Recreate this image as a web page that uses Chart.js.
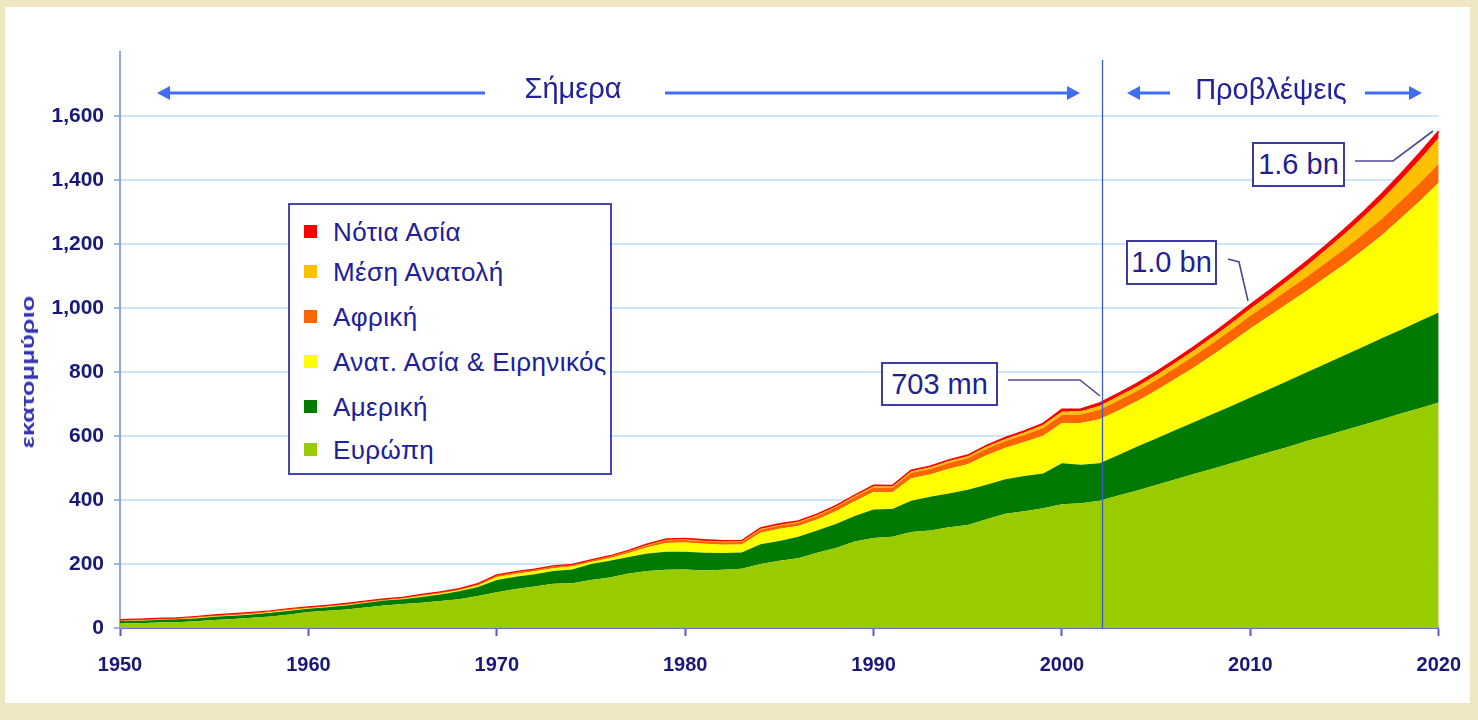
<!DOCTYPE html>
<html>
<head>
<meta charset="utf-8">
<script src="https://cdn.jsdelivr.net/npm/chart.js@4.4.1/dist/chart.umd.min.js"></script>
<style>
  html,body{margin:0;padding:0;}
  body{width:1478px;height:720px;overflow:hidden;position:relative;background:#efe7c2;font-family:"Liberation Sans",Arial,sans-serif;}
  #panel{position:absolute;left:5px;top:7px;width:1465px;height:696px;background:#fff;}
  #c{position:absolute;left:0;top:0;}
  .hdr{position:absolute;color:#22229a;font-size:29px;white-space:nowrap;transform:translate(-50%,-50%);}
  .box{position:absolute;box-sizing:border-box;border:2px solid #3c3ca4;background:#fff;color:#1f1f90;font-size:29px;text-align:center;white-space:nowrap;}
  #legend{position:absolute;left:288px;top:203px;width:324px;height:272px;box-sizing:border-box;border:2px solid #4646b0;background:#fff;}
  .li{position:absolute;left:0;white-space:nowrap;}
  .sw{position:absolute;left:14px;width:13px;height:13px;}
  .lt{position:absolute;left:43px;color:#20209a;font-size:26px;letter-spacing:0.4px;transform:translateY(-50%);}
  #ytitle{position:absolute;left:28px;top:372px;color:#3434b0;font-size:19px;font-weight:bold;white-space:nowrap;transform:translate(-50%,-50%) rotate(-90deg) scaleX(1.35);}
</style>
</head>
<body>
<div id="panel"></div>
<canvas id="c" width="1478" height="720"></canvas>
<div class="hdr" style="left:573px;top:88px;">Σήμερα</div>
<div class="hdr" style="left:1271px;top:89px;">Προβλέψεις</div>
<div id="ytitle">εκατομμύριο</div>
<div id="legend"></div>
<div class="box" style="left:881px;top:362px;width:117px;height:44px;line-height:40px;">703 mn</div>
<div class="box" style="left:1126px;top:240px;width:91px;height:45px;line-height:41px;">1.0 bn</div>
<div class="box" style="left:1252px;top:142px;width:93px;height:45px;line-height:41px;">1.6 bn</div>
<script>
// ---- Data (millions) ----
const years = [
 1950,1951,1952,1953,1954,1955,1956,1957,1958,1959,
 1960,1961,1962,1963,1964,1965,1966,1967,1968,1969,
 1970,1971,1972,1973,1974,1975,1976,1977,1978,1979,
 1980,1981,1982,1983,1984,1985,1986,1987,1988,1989,
 1990,1991,1992,1993,1994,1995,1996,1997,1998,1999,
 2000,2001,2002,2003,2004,2005,2006,2007,2008,2009,
 2010,2011,2012,2013,2014,2015,2016,2017,2018,2019,
 2020];

const europe = [
 14,15,17,18,21,25,28,32,36,42,
 50,54,58,64,70,75,79,84,90,100,
 112,122,130,138,140,150,158,170,178,182,
 183,180,182,185,200,210,218,235,250,270,
 281,285,300,305,315,322,340,357,365,374,
 387,390,398,414,430,447,464,481,498,515,
 532,549,566,584,601,618,635,652,670,687,
 705];

const americas = [
 8,8,8,9,9,10,10,10,12,12,
 10,11,12,14,16,15,18,21,25,28,
 38,38,38,40,43,50,52,52,55,56,
 55,55,52,51,62,62,67,70,75,80,
 89,87,98,105,105,110,108,108,110,109,
 128,120,117,127,137,145,154,162,171,179,
 188,197,207,215,225,234,244,254,262,272,
 281];

const eastAsia = [
 1,1,1,1,2,2,2,2,2,2,
 2,2,2,2,1,2,3,3,3,5,
 9,9,9,9,9,6,8,12,19,28,
 29,28,26,25,36,38,34,34,40,46,
 55,52,70,70,78,80,92,98,106,118,
 126,131,137,139,142,150,160,171,184,200,
 216,229,242,255,270,285,303,322,349,375,
 406];

const africa = [
 1,1,1,1,1,1,2,2,1,2,
 1,1,2,1,1,1,2,2,2,3,
 4,4,4,4,4,4,5,5,6,8,
 8,8,8,8,9,10,10,11,12,13,
 14,14,17,17,18,19,20,21,22,24,
 25,26,30,31,32,33,34,36,37,38,
 40,41,42,44,45,47,49,52,54,57,
 59];

const middleEast = [
 0,1,1,1,1,1,1,1,1,1,
 1,1,1,1,1,1,1,1,1,1,
 1,1,1,1,1,1,1,2,2,2,
 2,2,2,2,3,3,3,3,3,4,
 4,4,5,5,6,6,7,7,8,9,
 10,10,12,13,14,15,16,17,19,20,
 22,25,29,34,40,47,53,60,66,73,
 80];

const southAsia = [
 1,1,1,1,1,1,1,1,1,1,
 1,1,1,1,1,1,1,1,1,1,
 1,1,1,1,1,1,1,1,2,2,
 2,2,2,2,2,2,2,2,2,2,
 3,3,3,3,3,3,3,4,4,5,
 7,7,9,9,10,10,10,11,11,12,
 12,13,13,14,14,15,16,18,19,21,
 22];

const seriesNames = ["Ευρώπη","Αμερική","Ανατ. Ασία & Ειρηνικός","Αφρική","Μέση Ανατολή","Νότια Ασία"];
const seriesValues = [europe, americas, eastAsia, africa, middleEast, southAsia];
const seriesColors = ["#99cc00","#007a00","#ffff00","#ff6600","#ffc000","#ff0000"];

const yTicks = [0,200,400,600,800,1000,1200,1400,1600];
const xTicks = [1950,1960,1970,1980,1990,2000,2010,2020];
const splitYear = 2002.1;

const FONT = '"Liberation Sans", Arial, sans-serif';

// ---- Legend (HTML, top-to-bottom = reverse stack order) ----
const legend = document.getElementById('legend');
const rowY = [27, 67, 112, 157, 202, 245];
for (let k = 0; k < seriesNames.length; k++) {
  const i = seriesNames.length - 1 - k;
  const row = document.createElement('div');
  row.className = 'li';
  row.style.top = rowY[k] + 'px';
  const sw = document.createElement('div');
  sw.className = 'sw';
  sw.style.background = seriesColors[i];
  sw.style.top = '-7px';
  const t = document.createElement('div');
  t.className = 'lt';
  t.textContent = seriesNames[i];
  row.appendChild(sw); row.appendChild(t);
  legend.appendChild(row);
}

// ---- Datasets ----
const datasets = seriesValues.map((vals, i) => ({
  label: seriesNames[i],
  data: vals.map((v, j) => ({x: years[j], y: v})),
  backgroundColor: seriesColors[i],
  borderColor: seriesColors[i],
  borderWidth: i === 5 ? 1.8 : 0,
  pointRadius: 0,
  fill: i === 0 ? 'origin' : '-1',
  tension: 0
}));

function arrow(ctx, x1, y, x2, color) {
  const dir = Math.sign(x2 - x1);
  ctx.strokeStyle = color; ctx.fillStyle = color; ctx.lineWidth = 3;
  ctx.beginPath(); ctx.moveTo(x1, y); ctx.lineTo(x2 - dir * 10, y); ctx.stroke();
  ctx.beginPath(); ctx.moveTo(x2, y); ctx.lineTo(x2 - dir * 13, y - 7); ctx.lineTo(x2 - dir * 13, y + 7); ctx.closePath(); ctx.fill();
}

const overlay = {
  id: 'overlay',
  afterDraw(chart) {
    const ctx = chart.ctx;
    const xs = chart.scales.x, ys = chart.scales.y;
    ctx.save();
    const sx = Math.round(xs.getPixelForValue(splitYear)) + 0.5;
    ctx.strokeStyle = '#3c5ad0'; ctx.lineWidth = 1.3;
    ctx.beginPath(); ctx.moveTo(sx, 60); ctx.lineTo(sx, ys.getPixelForValue(0)); ctx.stroke();
    const ac = '#3f6ef2';
    arrow(ctx, 485, 93, 157, ac);
    arrow(ctx, 665, 93, 1080, ac);
    arrow(ctx, 1170, 93, 1127, ac);
    arrow(ctx, 1365, 93, 1422, ac);
    ctx.strokeStyle = '#4a4a8e'; ctx.lineWidth = 1.6;
    ctx.beginPath(); ctx.moveTo(1008, 380); ctx.lineTo(1080, 380); ctx.lineTo(1100, 396); ctx.stroke();
    ctx.beginPath(); ctx.moveTo(1228, 259); ctx.lineTo(1239, 262); ctx.lineTo(1248, 301); ctx.stroke();
    ctx.beginPath(); ctx.moveTo(1355, 161); ctx.lineTo(1393, 161); ctx.lineTo(1433, 131); ctx.stroke();
    ctx.restore();
  }
};

new Chart(document.getElementById('c'), {
  type: 'line',
  data: { datasets },
  plugins: [overlay],
  options: {
    responsive: false,
    animation: false,
    layout: { padding: { left: 0, right: 38, top: 52, bottom: 0 } },
    plugins: { legend: { display: false }, tooltip: { enabled: false } },
    elements: { point: { radius: 0 }, line: { tension: 0 } },
    scales: {
      x: {
        type: 'linear', min: 1950, max: 2020,
        afterBuildTicks: s => { s.ticks = xTicks.map(v => ({value: v})); },
        ticks: { callback: v => String(v), font: { family: FONT, size: 20, weight: 'bold' }, color: '#18187a', padding: 17, maxRotation: 0, autoSkip: false },
        grid: { drawOnChartArea: false, drawTicks: true, tickLength: 8, tickColor: '#5b5bc8', tickWidth: 2 },
        border: { color: '#6a6ad4', width: 2 },
        afterFit: s => { s.height = 92; }
      },
      y: {
        stacked: true, min: 0, max: 1800,
        afterBuildTicks: s => { s.ticks = yTicks.map(v => ({value: v})); },
        ticks: { callback: v => v.toLocaleString('en-US'), font: { family: FONT, size: 21, weight: 'bold' }, color: '#18187a', padding: 10 },
        grid: { color: '#cde5fb', lineWidth: 2, tickLength: 6, tickColor: '#9fb4ef', tickWidth: 2 },
        border: { color: '#8ea4ee', width: 2 },
        afterFit: s => { s.width = 120; }
      }
    }
  }
});
</script>
</body>
</html>
